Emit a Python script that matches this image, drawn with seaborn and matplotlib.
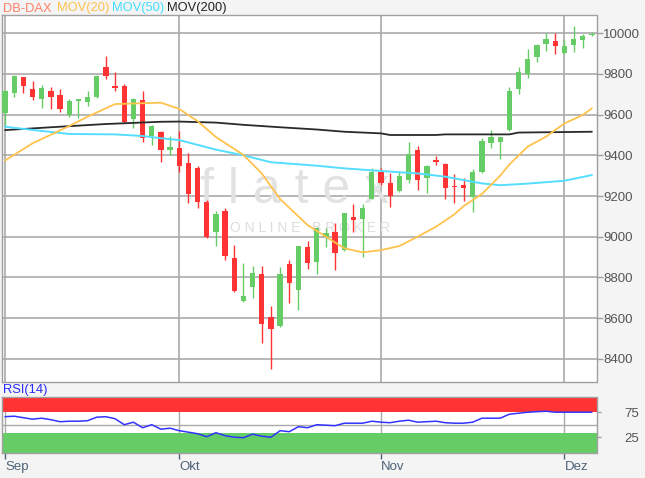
import numpy as np
import pandas as pd
import matplotlib
matplotlib.use("Agg")
import matplotlib.pyplot as plt
import seaborn as sns

# ---------------- data ----------------
opens = [9610, 9708, 9783, 9724, 9678, 9718, 9695, 9598, 9668, 9662,
         9688, 9836, 9740, 9742, 9578, 9672, 9495, 9513, 9426, 9438,
         9361, 9336, 9172, 9021, 9126, 8895, 8684, 8751, 8815, 8603,
         8561, 8866, 8738, 8950, 8874, 8997, 9025, 8934, 9095, 9087,
         9185, 9320, 9265, 9224, 9279, 9426, 9287, 9375, 9356, 9251,
         9254, 9197, 9316, 9462, 9467, 9525, 9725, 9800, 9882, 9946,
         9964, 9902, 9943, 9967, 9990]
highs = [9720, 9795, 9785, 9765, 9747, 9736, 9724, 9678, 9677, 9718,
         9795, 9890, 9811, 9749, 9683, 9718, 9547, 9521, 9495, 9520,
         9410, 9349, 9180, 9126, 9139, 8959, 8872, 8857, 8857, 8661,
         8850, 8885, 8956, 8979, 9049, 9041, 9069, 9118, 9161, 9161,
         9339, 9339, 9311, 9320, 9464, 9446, 9352, 9398, 9360, 9308,
         9287, 9331, 9487, 9525, 9492, 9734, 9833, 9923, 9946, 10000,
         10000, 9970, 10038, 9997, 10005]
lows = [9541, 9685, 9708, 9672, 9631, 9626, 9613, 9590, 9586, 9644,
        9680, 9773, 9716, 9560, 9532, 9467, 9450, 9369, 9402, 9320,
        9164, 9139, 8995, 8956, 8885, 8730, 8680, 8697, 8476, 8348,
        8558, 8675, 8639, 8839, 8816, 8951, 8836, 8931, 9025, 8898,
        9183, 9255, 9144, 9221, 9262, 9229, 9216, 9352, 9185, 9164,
        9177, 9123, 9311, 9434, 9380, 9520, 9702, 9779, 9861, 9915,
        9897, 9900, 9910, 9929, 9988]
closes = [9718, 9790, 9741, 9688, 9729, 9688, 9626, 9668, 9675, 9688,
          9790, 9791, 9731, 9565, 9677, 9486, 9544, 9426, 9443, 9349,
          9208, 9169, 9000, 9113, 8907, 8733, 8707, 8820, 8569, 8544,
          8815, 8771, 8956, 8869, 9041, 9020, 8921, 9115, 9082, 9141,
          9320, 9262, 9200, 9300, 9406, 9279, 9347, 9369, 9241, 9243,
          9238, 9320, 9470, 9488, 9488, 9718, 9811, 9872, 9943, 9970,
          9939, 9939, 9970, 9988, 9996]

ma20_idx = [0, 3, 7, 9, 12, 17, 19, 21, 23, 26, 28, 30, 33, 35, 37, 39, 41,
            43, 45, 47, 49, 50, 52, 54, 55, 57, 59, 61, 63, 64]
ma20_val = [9374, 9459, 9544, 9590, 9652, 9659, 9628, 9568, 9490, 9402, 9311,
            9185, 9057, 9000, 8943, 8923, 8934, 8954, 9000, 9049, 9110, 9150,
            9210, 9300, 9355, 9443, 9492, 9557, 9598, 9631]

ma50_idx = [0, 2, 7, 12, 15, 17, 19, 23, 26, 29, 34, 37, 41, 45, 48, 52, 54,
            57, 61, 64]
ma50_val = [9541, 9530, 9505, 9503, 9495, 9484, 9475, 9428, 9400, 9366, 9349,
            9336, 9323, 9311, 9295, 9262, 9253, 9261, 9275, 9303]

ma200_idx = [0, 5, 11, 17, 19, 23, 26, 30, 34, 37, 41, 42, 47, 48, 55, 56, 64]
ma200_val = [9524, 9538, 9554, 9565, 9566, 9561, 9550, 9538, 9527, 9516,
             9508, 9500, 9500, 9503, 9503, 9512, 9516]

rsi = [66, 67, 64, 61, 63, 60, 56, 57, 57, 58,
       65, 66, 62, 50, 55, 44, 50, 41, 43, 38,
       35, 32, 26, 34, 28, 25, 24, 31, 27, 25,
       38, 36, 46, 44, 50, 49, 48, 53, 53, 53,
       57, 55, 54, 57, 59, 55, 56, 57, 54, 53,
       53, 55, 63, 63, 63, 71, 73, 75, 76, 77,
       75, 75, 75, 75, 75]

month_labels = ["Sep", "Okt", "Nov", "Dez"]
month_idx = [0, 19, 41, 61]
price_ticks = [8400, 8600, 8800, 9000, 9200, 9400, 9600, 9800, 10000]
rsi_ticks = [25, 75]

# ---------------- style ----------------
GREEN = "#66cc66"
RED = "#ff3333"
GRID = "#aaaaaa"
SPINE = "#a0a0a0"

sns.set_style("white")
plt.rcParams["font.family"] = ["Liberation Sans", "DejaVu Sans"]

W, H = 645, 478
fig = plt.figure(figsize=(W / 100, H / 100), dpi=100, facecolor="#f4f4f4")

left_px, right_px = 1.7, 596.5
ax = fig.add_axes([left_px / W, 1 - 381.7 / H, (right_px - left_px) / W, (381.7 - 15) / H])
ax2 = fig.add_axes([left_px / W, 1 - 452.7 / H, (right_px - left_px) / W, (452.7 - 396.7) / H])

n = len(closes)
df = pd.DataFrame({"i": np.arange(n), "open": opens, "high": highs,
                   "low": lows, "close": closes, "rsi": rsi})
up = df["close"] >= df["open"]
colors = np.where(up, GREEN, RED)

xlim = (-0.36, 64.5)

# ---------------- main price panel ----------------
ax.set_facecolor("white")
ax.vlines(df["i"], df["low"], df["high"], colors=colors, lw=1.0, zorder=4)
body = (df["close"] - df["open"]).abs().clip(lower=8)
ax.bar(df["i"], body, bottom=np.minimum(df["open"], df["close"]),
       width=0.58, color=colors, linewidth=0, zorder=5)

ma20 = pd.DataFrame({"x": ma20_idx, "y": ma20_val})
ma50 = pd.DataFrame({"x": ma50_idx, "y": ma50_val})
ma200 = pd.DataFrame({"x": ma200_idx, "y": ma200_val})
sns.lineplot(data=ma200, x="x", y="y", ax=ax, color="#2a2a2a", lw=1.3, zorder=6)
sns.lineplot(data=ma50, x="x", y="y", ax=ax, color="#55ddff", lw=1.4, zorder=6)
sns.lineplot(data=ma20, x="x", y="y", ax=ax, color="#ffc34d", lw=1.3, zorder=6)

ax.set_xlim(*xlim)
ax.set_ylim(8287, 10090)
ax.set_xticks(month_idx)
ax.set_xticklabels([])
ax.tick_params(axis="x", length=0)
ax.yaxis.tick_right()
ax.set_yticks(price_ticks)
ax.set_yticklabels([str(t) for t in price_ticks])
ax.tick_params(axis="y", right=True, length=4, width=1, color=SPINE, pad=1,
               labelsize=9.5, labelcolor="#555555")
ax.grid(True, color=GRID, lw=1.2, zorder=0)
ax.set_axisbelow(True)
ax.set_xlabel("")
ax.set_ylabel("")
for s in ax.spines.values():
    s.set_color(SPINE)
    s.set_linewidth(1.0)

# watermark
ax.text(0.493, 0.487, "f l a t e x", transform=ax.transAxes, ha="center", va="baseline",
        fontsize=36, color="#e2e2e2", zorder=1)
ax.text(0.518, 0.408, "O N L I N E   B R O K E R", transform=ax.transAxes,
        ha="center", va="baseline", fontsize=10, color="#dddddd", zorder=1)

# ---------------- RSI panel ----------------
ax2.set_facecolor("white")
ax2.set_xlim(*xlim)
ax2.set_ylim(-6, 106)
ax2.axhspan(75, 106, color=RED, lw=0, zorder=2)
ax2.axhspan(-6, 33, color=GREEN, lw=0, zorder=2)
ax2.axhline(50, color=GRID, lw=1.0, zorder=1)
for m in month_idx:
    ax2.axvline(m, color=GRID, lw=1.0, zorder=1)
sns.lineplot(data=df, x="i", y="rsi", ax=ax2, color="#3333ff", lw=1.1, zorder=5)
ax2.set_xticks(month_idx)
ax2.set_xticklabels(month_labels, ha="left")
ax2.tick_params(axis="x", bottom=True, length=4, width=1, color="#4d6278", pad=2,
                labelsize=9.5, labelcolor="#4d6278")
ax2.yaxis.tick_right()
ax2.set_yticks(rsi_ticks)
ax2.set_yticklabels([str(t) for t in rsi_ticks])
ax2.tick_params(axis="y", right=True, length=3, width=1, color=SPINE, pad=17,
                labelsize=9.5, labelcolor="#555555")
ax2.grid(False)
ax2.set_xlabel("")
ax2.set_ylabel("")
for s in ax2.spines.values():
    s.set_color(SPINE)
    s.set_linewidth(1.0)

# ---------------- header texts ----------------
ty = 1 - 8.5 / H
fig.text(3 / W, ty, "DB-DAX", color="#ff8066", fontsize=9.3, va="center", ha="left")
fig.text(57 / W, ty, "MOV(20)", color="#ffc04d", fontsize=9.3, va="center", ha="left")
fig.text(112 / W, ty, "MOV(50)", color="#44ddff", fontsize=9.3, va="center", ha="left")
fig.text(167 / W, ty, "MOV(200)", color="#222222", fontsize=9.3, va="center", ha="left")
fig.text(3 / W, 1 - 390.5 / H, "RSI(14)", color="#2b2bff", fontsize=9.3, va="center", ha="left")

fig.savefig("out.png", dpi=100, facecolor=fig.get_facecolor())
